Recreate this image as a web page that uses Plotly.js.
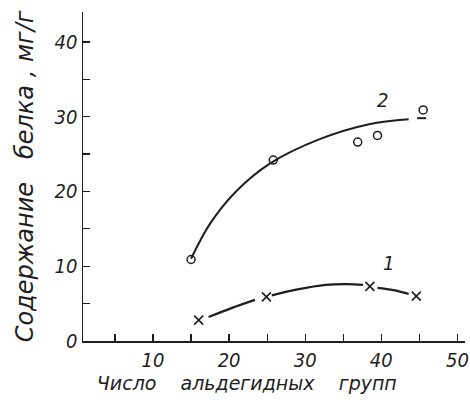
<!DOCTYPE html>
<html>
<head>
<meta charset="utf-8">
<script src="https://cdn.plot.ly/plotly-3.0.1.min.js"></script>
<style>html,body{margin:0;padding:0;background:#fff;}#chart{width:470px;height:404px;}</style>
</head>
<body>
<div id="chart"></div>
<script>
// Series 2 (circles): measured points
const s2x = [15.0, 25.8, 36.9, 39.5, 45.5];
const s2y = [10.9, 24.2, 26.6, 27.5, 30.9];
// Series 1 (crosses): measured points
const s1x = [16.0, 24.9, 38.5, 44.6];
const s1y = [2.8, 5.9, 7.3, 6.0];
// Hand-drawn fitted curves
const c2x = [15.0, 17.5, 21.0, 25.3, 31.9, 38.4, 43.6, null, 44.7, 45.9];
const c2y = [11.0, 15.7, 20.1, 23.7, 27.0, 29.0, 29.65, null, 29.8, 29.8];
const c1x = [17.3, 20.3, 23.4, null, 25.6, 29.0, 32.7, 35.5, 37.6, null, 39.5, 41.6, 43.6];
const c1y = [3.2, 4.4, 5.5, null, 6.1, 6.9, 7.5, 7.6, 7.5, null, 7.1, 6.8, 6.3];
const xTicks = [10, 20, 30, 40, 50];
const yTicks = [0, 10, 20, 30, 40];
const nb = n => "\u00A0".repeat(n);
const pad = '<span style="color:#ffffff">.</span>';
const xTitle = "Число" + nb(4) + "альдегидных" + nb(4) + "групп" + nb(8) + pad;
const yTitle = "Содержание" + nb(3) + "белка\u00A0,\u00A0мг/г";

const ink = '#1e1e1e';
const tickFam = '"DejaVu Sans Condensed", "DejaVu Sans", sans-serif';
const titleFam = '"DejaVu Sans", sans-serif';

const traces = [
  {x: c2x, y: c2y, mode: 'lines', line: {color: ink, width: 2, shape: 'spline'}, connectgaps: false, hoverinfo: 'skip'},
  {x: c1x, y: c1y, mode: 'lines', line: {color: ink, width: 2.2, shape: 'spline'}, connectgaps: false, hoverinfo: 'skip'},
  {x: s2x, y: s2y, mode: 'markers', marker: {symbol: 'circle-open', size: 8, color: ink, line: {width: 1.5, color: ink}}},
  {x: s1x, y: s1y, mode: 'markers', marker: {symbol: 'x-thin-open', size: 9, color: ink, line: {width: 1.6, color: ink}}}
];

const layout = {
  width: 470, height: 404,
  margin: {l: 83, r: 5, t: 12, b: 63},
  paper_bgcolor: '#fff', plot_bgcolor: '#fff',
  showlegend: false,
  font: {family: titleFam, color: ink, size: 16, style: 'italic'},
  xaxis: {
    range: [0.8, 51], tickvals: xTicks, ticktext: xTicks.map(String),
    ticks: 'inside', ticklen: 7, tickwidth: 1.3, tickcolor: ink,
    minor: {tickvals: [5, 15, 25, 35, 45], ticks: 'inside', ticklen: 7, tickwidth: 1.3, tickcolor: ink},
    showline: true, linecolor: ink, linewidth: 1.5, showgrid: false, zeroline: false,
    tickfont: {family: tickFam, size: 20, style: 'italic', color: ink},
    title: {text: xTitle, font: {family: titleFam, size: 19, style: 'italic', color: ink}, standoff: 6}
  },
  yaxis: {
    range: [0, 44], tickvals: yTicks, ticktext: yTicks.map(String),
    ticks: 'inside', ticklen: 7, tickwidth: 1.3, tickcolor: ink,
    minor: {tickvals: [5, 15, 25, 35], ticks: 'inside', ticklen: 7, tickwidth: 1.3, tickcolor: ink},
    showline: true, linecolor: ink, linewidth: 1.5, showgrid: false, zeroline: false,
    tickfont: {family: tickFam, size: 20, style: 'italic', color: ink},
    title: {text: yTitle, font: {family: titleFam, size: 24, style: 'italic', color: ink}, standoff: 14}
  },
  annotations: [
    {x: 40.1, y: 32.2, text: '2', showarrow: false, font: {family: tickFam, size: 20, style: 'italic', color: ink}},
    {x: 41.0, y: 10.4, text: '1', showarrow: false, font: {family: tickFam, size: 20, style: 'italic', color: ink}}
  ]
};

Plotly.newPlot('chart', traces, layout, {displayModeBar: false, staticPlot: true});
</script>
</body>
</html>
